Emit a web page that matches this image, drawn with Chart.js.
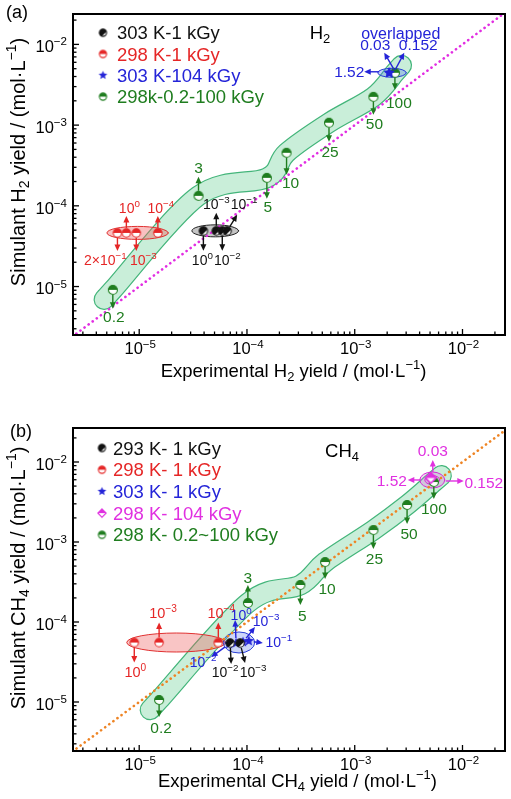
<!DOCTYPE html>
<html>
<head>
<meta charset="utf-8">
<script src="https://cdn.jsdelivr.net/npm/chart.js@4.4.1/dist/chart.umd.min.js"></script>
<style>
  html, body { margin: 0; padding: 0; background: #fff; }
  .panel { position: absolute; left: 0; }
  #wrapA { top: 0; }
  #wrapB { top: 400px; }
</style>
</head>
<body>
<div class="panel" id="wrapA"><canvas id="chartA" width="511" height="400"></canvas></div>
<div class="panel" id="wrapB"><canvas id="chartB" width="511" height="399"></canvas></div>
<script>
// ---------- yields in mol/L ----------
const xLimits = [2.43e-6, 2.48e-2];
const yLimitsH2 = [2.51e-6, 2.38e-2];
const yLimitsCH4 = [2.44e-6, 2.66e-2];
const tickValues = [1e-5, 1e-4, 1e-3, 1e-2];
const tickLabels = ['10^-5', '10^-4', '10^-3', '10^-2'];
const parityLine = [1e-6, 1e-1];

// (a) H2
const h2DoseLabels = ['0.2', '3', '5', '10', '25', '50', '100'];
const h2DoseX = [5.69e-6, 3.55e-5, 1.53e-4, 2.33e-4, 5.77e-4, 1.49e-3, 2.36e-3];
const h2DoseY = [9.1e-6, 1.33e-4, 2.22e-4, 4.54e-4, 1.07e-3, 2.24e-3, 4.45e-3];
const h2Rate298Labels = ['2×10^-1', '10^0', '10^-3', '10^-4'];
const h2Rate298X = [6.28e-6, 7.6e-6, 9.39e-6, 1.49e-5];
const h2Rate298Y = [4.62e-5, 4.62e-5, 4.62e-5, 4.62e-5];
const h2Rate303Labels = ['10^0', '10^-3', '10^-2', '10^-1'];
const h2Rate303X = [3.94e-5, 5.19e-5, 5.9e-5, 6.55e-5];
const h2Rate303Y = [4.9e-5, 4.9e-5, 4.9e-5, 4.9e-5];
const h2HighLabels = ['1.52', '0.03', '0.152'];
const h2HighX = [2.09e-3, 2.09e-3, 2.09e-3];
const h2HighY = [4.45e-3, 4.45e-3, 4.45e-3];
const h2Legend = ['303 K-1 kGy', '298 K-1 kGy', '303 K-104 kGy', '298k-0.2-100 kGy'];

// (b) CH4
const ch4DoseLabels = ['0.2', '3', '5', '10', '25', '50', '100'];
const ch4DoseX = [1.53e-5, 1.02e-4, 3.13e-4, 5.31e-4, 1.49e-3, 3.06e-3, 5.42e-3];
const ch4DoseY = [1.06e-5, 1.73e-4, 2.90e-4, 5.62e-4, 1.41e-3, 2.90e-3, 5.62e-3];
const ch4Rate298Labels = ['10^0', '10^-3', '10^-4'];
const ch4Rate298X = [9.0e-6, 1.53e-5, 5.42e-5];
const ch4Rate298Y = [5.54e-5, 5.54e-5, 5.54e-5];
const ch4Rate293Labels = ['10^-2', '10^-3'];
const ch4Rate293X = [6.98e-5, 8.63e-5];
const ch4Rate293Y = [5.46e-5, 5.46e-5];
const ch4Rate303Labels = ['10^-2', '10^0', '10^-3', '10^-1'];
const ch4Rate303X = [6.84e-5, 7.93e-5, 9.19e-5, 1.04e-4];
const ch4Rate303Y = [5.31e-5, 5.46e-5, 5.62e-5, 5.79e-5];
const ch4HighLabels = ['0.03', '1.52', '0.152'];
const ch4HighX = [5.08e-3, 5.08e-3, 5.08e-3];
const ch4HighY = [6.31e-3, 6.31e-3, 6.31e-3];
const ch4Legend = ['293 K- 1 kGy', '298 K- 1 kGy', '303 K- 1 kGy', '298 K- 104 kGy', '298 K- 0.2~100 kGy'];

// ---------- styling ----------
const FAMILY = '"Liberation Sans", Arial, Helvetica, sans-serif';
const font = (px) => px + 'px ' + FAMILY;
const C = {
  black: '#111111', red: '#e52626', blue: '#2424d8', green: '#1f7d1f', magenta: '#e030e0',
  bandFill: '#c9eed9', bandLine: '#43b57a',
};

function markerCanvas(shape, color, r) {
  const size = Math.ceil(2 * r + 3);
  const c = document.createElement('canvas');
  c.width = size; c.height = size;
  const g = c.getContext('2d');
  const m = size / 2;
  g.lineWidth = 1.1;
  g.strokeStyle = color;
  g.fillStyle = color;
  if (shape === 'half' || shape === 'dark') {
    g.beginPath(); g.arc(m, m, r, 0, Math.PI * 2);
    g.fillStyle = '#fff'; g.fill();
    g.beginPath();
    if (shape === 'half') g.arc(m, m, r, Math.PI, Math.PI * 2);
    else g.arc(m, m, r, Math.PI * 0.6, Math.PI * 1.9);
    g.closePath(); g.fillStyle = color; g.fill();
    g.beginPath(); g.arc(m, m, r, 0, Math.PI * 2); g.stroke();
  } else if (shape === 'diamond') {
    g.beginPath();
    g.moveTo(m, m - r); g.lineTo(m + r, m); g.lineTo(m, m + r); g.lineTo(m - r, m); g.closePath();
    g.fillStyle = '#fff'; g.fill();
    g.beginPath(); g.moveTo(m - r, m); g.lineTo(m, m - r); g.lineTo(m + r, m); g.closePath();
    g.fillStyle = color; g.fill();
    g.beginPath();
    g.moveTo(m, m - r); g.lineTo(m + r, m); g.lineTo(m, m + r); g.lineTo(m - r, m); g.closePath();
    g.stroke();
  } else if (shape === 'star') {
    g.beginPath();
    for (let i = 0; i < 10; i++) {
      const rad = i % 2 ? r * 0.45 : r;
      const a = -Math.PI / 2 + i * Math.PI / 5;
      g.lineTo(m + rad * Math.cos(a), m + rad * Math.sin(a));
    }
    g.closePath(); g.fill();
  }
  return c;
}

const plotMarks = {
  black: markerCanvas('dark', C.black, 4.2),
  red: markerCanvas('half', C.red, 4.2),
  green: markerCanvas('half', C.green, 4.5),
  blue: markerCanvas('star', C.blue, 5.5),
  magenta: markerCanvas('diamond', C.magenta, 5),
};
const keyMarks = {
  black: markerCanvas('dark', C.black, 3.6),
  red: markerCanvas('half', C.red, 3.6),
  green: markerCanvas('half', C.green, 3.6),
  blue: markerCanvas('star', C.blue, 4.6),
  magenta: markerCanvas('diamond', C.magenta, 4.2),
};

// "10^-3" -> raised exponent, "H_2" -> lowered index
function parseRich(str) {
  const out = [];
  const re = /\^(-?\d+)|_(\d)/g;
  let last = 0, m;
  while ((m = re.exec(str))) {
    if (m.index > last) out.push({ t: str.slice(last, m.index), k: 0 });
    if (m[1] !== undefined) out.push({ t: m[1].replace('-', '\u2212'), k: 1 });
    else out.push({ t: m[2], k: -1 });
    last = re.lastIndex;
  }
  if (last < str.length) out.push({ t: str.slice(last), k: 0 });
  return out;
}

function drawRich(ctx, str, x, y, size, color, align) {
  const segs = parseRich(str);
  const small = size * 0.7;
  let w = 0;
  segs.forEach(s => {
    ctx.font = font(s.k ? small : size);
    s.w = ctx.measureText(s.t).width;
    w += s.w;
  });
  let cx = align === 'left' ? x : align === 'right' ? x - w : x - w / 2;
  const base = y + size * 0.36;
  ctx.fillStyle = color;
  ctx.textAlign = 'left';
  ctx.textBaseline = 'alphabetic';
  segs.forEach(s => {
    ctx.font = font(s.k ? small : size);
    const dy = s.k === 1 ? -size * 0.42 : s.k === -1 ? size * 0.22 : 0;
    ctx.fillText(s.t, cx, base + dy);
    cx += s.w;
  });
}

function arrow(ctx, x0, y0, x1, y1, color) {
  const a = Math.atan2(y1 - y0, x1 - x0);
  const head = 6.5, half = 3;
  const ca = Math.cos(a), sa = Math.sin(a);
  ctx.strokeStyle = color;
  ctx.fillStyle = color;
  ctx.lineWidth = 1.4;
  ctx.beginPath();
  ctx.moveTo(x0, y0);
  ctx.lineTo(x1 - ca * head * 0.7, y1 - sa * head * 0.7);
  ctx.stroke();
  ctx.beginPath();
  ctx.moveTo(x1, y1);
  ctx.lineTo(x1 - head * ca + half * sa, y1 - head * sa - half * ca);
  ctx.lineTo(x1 - head * ca - half * sa, y1 - head * sa + half * ca);
  ctx.closePath();
  ctx.fill();
}

function points(xs, ys) {
  return xs.map((x, i) => ({ x: x, y: ys[i] }));
}

function bandStroke(ctx, pts, ext) {
  const n = pts.length;
  const unit = (dx, dy) => { const l = Math.hypot(dx, dy); return { x: dx / l, y: dy / l }; };
  const u0 = unit(pts[0].x - pts[1].x, pts[0].y - pts[1].y);
  const u1 = unit(pts[n - 1].x - pts[n - 2].x, pts[n - 1].y - pts[n - 2].y);
  const P = [{ x: pts[0].x + u0.x * ext, y: pts[0].y + u0.y * ext }, ...pts,
             { x: pts[n - 1].x + u1.x * ext, y: pts[n - 1].y + u1.y * ext }];
  ctx.beginPath();
  ctx.moveTo(P[0].x, P[0].y);
  for (let i = 0; i < P.length - 1; i++) {
    const q0 = P[Math.max(i - 1, 0)], q1 = P[i], q2 = P[i + 1], q3 = P[Math.min(i + 2, P.length - 1)];
    ctx.bezierCurveTo(q1.x + (q2.x - q0.x) / 6, q1.y + (q2.y - q0.y) / 6,
                      q2.x - (q3.x - q1.x) / 6, q2.y - (q3.y - q1.y) / 6, q2.x, q2.y);
  }
}

function decorPlugin(cfg) {
  const px = (chart, s, i) => ({
    x: chart.scales.x.getPixelForValue(s.x[i]),
    y: chart.scales.y.getPixelForValue(s.y[i]),
  });
  return {
    id: 'decor',
    beforeDatasetsDraw(chart) {
      const ctx = chart.ctx;
      ctx.save();
      // shaded dose band along the 298 K series
      const bs = cfg.series[cfg.band.series];
      const bp = bs.x.map((_, i) => { const p = px(chart, bs, i); return { x: p.x, y: p.y + cfg.band.shift }; });
      ctx.lineCap = 'round';
      ctx.lineJoin = 'round';
      bandStroke(ctx, bp, cfg.band.ext);
      ctx.strokeStyle = C.bandLine; ctx.lineWidth = cfg.band.width; ctx.stroke();
      ctx.strokeStyle = C.bandFill; ctx.lineWidth = cfg.band.width - 2.4; ctx.stroke();
      // ellipses around grouped points
      cfg.ellipses.forEach(e => {
        const ps = [];
        e.members.forEach(([key, idx]) => {
          const s = cfg.series[key];
          (idx || s.x.map((_, i) => i)).forEach(i => ps.push(px(chart, s, i)));
        });
        const xs = ps.map(p => p.x), ys = ps.map(p => p.y);
        const x0 = Math.min(...xs), x1 = Math.max(...xs), y0 = Math.min(...ys), y1 = Math.max(...ys);
        ctx.beginPath();
        ctx.ellipse((x0 + x1) / 2, (y0 + y1) / 2, (x1 - x0) / 2 + e.padX, (y1 - y0) / 2 + e.padY, 0, 0, Math.PI * 2);
        ctx.fillStyle = e.fill; ctx.fill();
        ctx.strokeStyle = e.stroke; ctx.lineWidth = 1; ctx.stroke();
      });
      ctx.restore();
    },
    afterDatasetsDraw(chart) {
      const ctx = chart.ctx;
      const { left, right, top, bottom } = chart.chartArea;
      ctx.save();
      // arrows + dose / dose-rate labels
      Object.values(cfg.series).forEach(s => {
        s.labels.forEach((txt, i) => {
          const lay = s.callouts[i];
          const p = px(chart, s, i);
          const [tx, ty, lx, ly, sx, sy] = lay;
          let x0, y0;
          if (sx !== undefined) { x0 = p.x + sx; y0 = p.y + sy; }
          else { const l = Math.hypot(tx, ty); x0 = p.x + tx / l * 5; y0 = p.y + ty / l * 5; }
          arrow(ctx, x0, y0, p.x + tx, p.y + ty, s.color);
          drawRich(ctx, txt, p.x + lx, p.y + ly, s.labelSize, s.color, 'center');
        });
      });
      if (cfg.note) {
        const s = cfg.series[cfg.note.series];
        const p = px(chart, s, 0);
        drawRich(ctx, cfg.note.text, p.x + cfg.note.dx, p.y + cfg.note.dy, 16, s.color, 'center');
      }
      // frame and inward ticks
      ctx.strokeStyle = '#000';
      ctx.lineWidth = 1.3;
      for (let d = -6; d <= -1; d++) {
        for (let k = 1; k <= 9; k++) {
          const v = k * Math.pow(10, d);
          const len = k === 1 ? 6 : 3.5;
          const tx = chart.scales.x.getPixelForValue(v);
          if (tx > left + 1 && tx < right - 1) {
            ctx.beginPath(); ctx.moveTo(tx, bottom); ctx.lineTo(tx, bottom - len); ctx.stroke();
          }
          const ty = chart.scales.y.getPixelForValue(v);
          if (ty > top + 1 && ty < bottom - 1) {
            ctx.beginPath(); ctx.moveTo(left, ty); ctx.lineTo(left + len, ty); ctx.stroke();
          }
        }
      }
      ctx.lineWidth = 2;
      ctx.strokeRect(left, top, right - left, bottom - top);
      tickValues.forEach((v, i) => {
        drawRich(ctx, tickLabels[i], chart.scales.x.getPixelForValue(v) + 1, bottom + 13.5, 16.5, '#000', 'center');
        drawRich(ctx, tickLabels[i], left - 6, chart.scales.y.getPixelForValue(v) + 2, 16.5, '#000', 'right');
      });
      // key
      const lg = cfg.legend;
      lg.items.forEach((txt, i) => {
        const y = lg.y + i * lg.step;
        const mk = keyMarks[lg.marks[i]];
        ctx.drawImage(mk, lg.markX - mk.width / 2, y - mk.height / 2);
        drawRich(ctx, txt, lg.textX, y, 18.5, C[lg.marks[i]], 'left');
      });
      // gas name, axis titles, panel letter
      drawRich(ctx, cfg.title.text, cfg.title.x, cfg.title.y, 18.5, '#000', 'center');
      drawRich(ctx, cfg.xTitle.text, cfg.xTitle.x, cfg.xTitle.y, cfg.xTitle.size, '#000', 'center');
      ctx.translate(cfg.yTitle.x, cfg.yTitle.y);
      ctx.rotate(-Math.PI / 2);
      drawRich(ctx, cfg.yTitle.text, 0, 0, cfg.yTitle.size, '#000', 'center');
      ctx.setTransform(1, 0, 0, 1, 0, 0);
      drawRich(ctx, cfg.letter.text, cfg.letter.x, cfg.letter.y, 18, '#000', 'left');
      ctx.restore();
    },
  };
}

function buildPanel(canvasId, cfg) {
  const scatterSets = Object.values(cfg.series).map(s => ({
    data: points(s.x, s.y),
    pointStyle: plotMarks[s.mark],
    pointRadius: 5,
    showLine: false,
  }));
  return new Chart(document.getElementById(canvasId), {
    type: 'scatter',
    data: {
      datasets: [
        ...scatterSets,
        {
          type: 'line',
          data: points(parityLine, parityLine),
          borderColor: cfg.parityColor,
          borderWidth: 2.6,
          borderDash: [0.1, 5],
          borderCapStyle: 'round',
          pointRadius: 0,
        },
      ],
    },
    options: {
      responsive: false,
      animation: false,
      devicePixelRatio: 1,
      events: [],
      layout: { padding: cfg.padding },
      plugins: { legend: { display: false }, tooltip: { enabled: false } },
      scales: {
        x: { type: 'logarithmic', min: xLimits[0], max: xLimits[1], display: false },
        y: { type: 'logarithmic', min: cfg.yLimits[0], max: cfg.yLimits[1], display: false },
      },
    },
    plugins: [decorPlugin(cfg)],
  });
}

// callout layout: [arrowTipDx, arrowTipDy, labelDx, labelDy, (startDx, startDy)]
buildPanel('chartA', {
  padding: { left: 73, top: 14, right: 1, bottom: 65 },
  yLimits: yLimitsH2,
  parityColor: '#e22de2',
  series: {
    r303: { x: h2Rate303X, y: h2Rate303Y, labels: h2Rate303Labels, mark: 'black', color: C.black, labelSize: 14,
            callouts: [[0, 20, -1, 29], [0, -18, 0, -27], [0, 20, 5, 29], [10, -16, 17, -27]] },
    r298: { x: h2Rate298X, y: h2Rate298Y, labels: h2Rate298Labels, mark: 'red', color: C.red, labelSize: 14,
            callouts: [[0, 18, -12, 27], [0, -17, 3, -25], [0, 18, 7, 27], [0, -17, 3, -25]] },
    high: { x: h2HighX, y: h2HighY, labels: h2HighLabels, mark: 'blue', color: C.blue, labelSize: 15.5,
            callouts: [[-25, -1, -40, -1, -10, -1], [-5, -20, -14, -28, 5, -3], [15, -20, 29, -28, 6, -3]] },
    dose: { x: h2DoseX, y: h2DoseY, labels: h2DoseLabels, mark: 'green', color: C.green, labelSize: 15.5,
            callouts: [[0, 19, 1, 27], [0, -19, 0, -28], [0, 21, 1, 29], [0, 22, 4, 30],
                       [0, 19, 1, 29], [0, 18, 1, 27], [0, 17, 4, 30]] },
  },
  band: { series: 'dose', width: 21, ext: 10, shift: 0 },
  ellipses: [
    { members: [['r298']], padX: 10.5, padY: 6.5, fill: 'rgba(238,90,90,0.38)', stroke: '#e03030' },
    { members: [['r303']], padX: 11.5, padY: 6, fill: 'rgba(110,110,110,0.4)', stroke: '#222' },
    { members: [['high'], ['dose', [6]]], padX: 11.5, padY: 4.5, fill: 'rgba(90,130,235,0.35)', stroke: '#2a3fd6' },
  ],
  note: { series: 'high', text: 'overlapped', dx: 11.5, dy: -39.5 },
  legend: { markX: 103, textX: 117, y: 32.7, step: 21.3, items: h2Legend, marks: ['black', 'red', 'blue', 'green'] },
  title: { text: 'H_2', x: 320, y: 32 },
  xTitle: { text: 'Experimental H_2 yield / (mol\u00b7L^-1)', x: 293.5, y: 370, size: 18.5 },
  yTitle: { text: 'Simulant H_2 yield / (mol\u00b7L^-1)', x: 17.5, y: 162, size: 20 },
  letter: { text: '(a)', x: 6, y: 12 },
});

buildPanel('chartB', {
  padding: { left: 73, top: 28, right: 1, bottom: 48 },
  yLimits: yLimitsCH4,
  parityColor: '#ee8424',
  series: {
    r293: { x: ch4Rate293X, y: ch4Rate293Y, labels: ch4Rate293Labels, mark: 'black', color: C.black, labelSize: 14,
            callouts: [[1, 21, -5, 29], [5, 20, 13, 29]] },
    r298: { x: ch4Rate298X, y: ch4Rate298Y, labels: ch4Rate298Labels, mark: 'red', color: C.red, labelSize: 14.5,
            callouts: [[0, 20, 1, 29], [0, -20, 4, -30], [0, -20, 3, -30]] },
    r303: { x: ch4Rate303X, y: ch4Rate303Y, labels: ch4Rate303Labels, mark: 'blue', color: C.blue, labelSize: 14,
            callouts: [[-18, 13, -26, 18], [-1, -23, 5, -28], [12, -15, 23, -21], [14, 2, 30, 1]] },
    high: { x: ch4HighX, y: ch4HighY, labels: ch4HighLabels, mark: 'magenta', color: C.magenta, labelSize: 15.5,
            callouts: [[2, -18, 2, -28, 2, -6], [-23, 2, -39, 2, -10, 2], [33, 3, 53, 4, 15, 3]] },
    dose: { x: ch4DoseX, y: ch4DoseY, labels: ch4DoseLabels, mark: 'green', color: C.green, labelSize: 15.5,
            callouts: [[0, 17, 2, 27], [0, -18, 0, -26], [0, 20, 2, 30], [0, 17, 2, 26],
                       [0, 19, 1, 28], [0, 19, 2, 28], [0, 17, 0, 26]] },
  },
  band: { series: 'dose', width: 21, ext: 10, shift: 0 },
  ellipses: [
    { members: [['r298']], padX: 7.5, padY: 9.5, fill: 'rgba(238,90,90,0.35)', stroke: '#e03030' },
    { members: [['r303'], ['r293']], padX: 6, padY: 9, fill: 'rgba(90,120,235,0.3)', stroke: '#2a3fd6' },
    { members: [['high'], ['dose', [6]]], padX: 11, padY: 6, fill: 'rgba(230,110,230,0.3)', stroke: '#d828d8' },
    { members: [['high'], ['dose', [6]]], padX: 6, padY: 2.5, fill: 'rgba(230,110,230,0.2)', stroke: '#d828d8' },
  ],
  legend: { markX: 102, textX: 113, y: 48, step: 21.7, items: ch4Legend, marks: ['black', 'red', 'blue', 'magenta', 'green'] },
  title: { text: 'CH_4', x: 342, y: 50 },
  xTitle: { text: 'Experimental CH_4 yield / (mol\u00b7L^-1)', x: 297.5, y: 380, size: 18.5 },
  yTitle: { text: 'Simulant CH_4 yield / (mol\u00b7L^-1)', x: 17.5, y: 178, size: 20 },
  letter: { text: '(b)', x: 10, y: 31 },
});
</script>
</body>
</html>
